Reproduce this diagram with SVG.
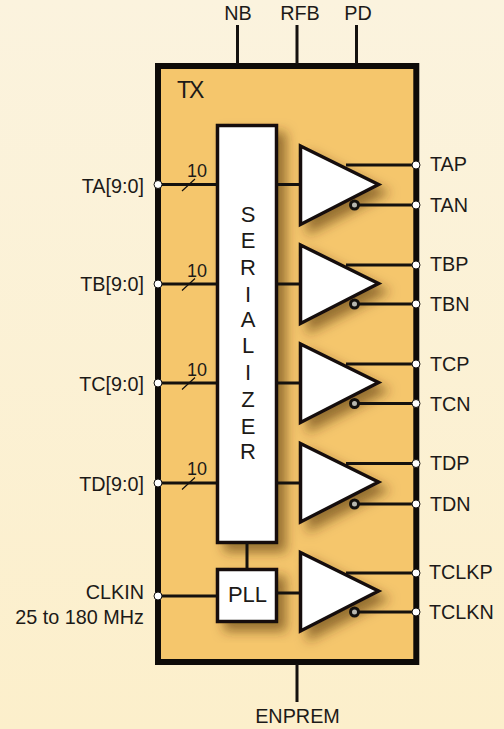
<svg xmlns="http://www.w3.org/2000/svg" width="504" height="729" viewBox="0 0 504 729">
<style>
text{font-family:"Liberation Sans",Arial,sans-serif;font-size:19.8px;fill:#1c1a18}
.e{text-anchor:end}.m{text-anchor:middle}
.w{stroke:#14110e;stroke-width:3;fill:none}
.t{stroke:#14110e;stroke-width:1.2;fill:none}
.b{fill:#fff;stroke:#14110e;stroke-width:3.5;stroke-linejoin:miter}
.p{fill:#fff;stroke:#14110e;stroke-width:1}
.n{fill:#b8b8b0;stroke:#14110e;stroke-width:3}
.s{filter:url(#sh)}
.l{font-size:22px}
</style>
<defs>
<filter id="sh" x="-40%" y="-30%" width="190%" height="170%"><feDropShadow dx="8" dy="8" stdDeviation="6" flood-color="#4a2c00" flood-opacity="0.55"/></filter>
<linearGradient id="bg" x1="0" y1="0" x2="0" y2="1"><stop offset="0" stop-color="#fbf3de"/><stop offset="1" stop-color="#fcefcb"/></linearGradient>
<polygon id="tri" class="b s" points="300.500,146 378.500,184.500 300.500,224.500"/>
</defs>
<rect width="504" height="729" fill="url(#bg)"/>
<g id="tx"><rect x="158" y="66" width="258.300" height="596" fill="#f5c66c" stroke="#0e0b08" stroke-width="6"/><text x="177" y="98" style="font-size:23px;letter-spacing:-2px">TX</text></g>
<g id="serializer"><rect class="b s" x="217.500" y="125.500" width="59" height="417"/>
<text class="m l" x="248" y="222">S</text><text class="m l" x="248" y="248">E</text><text class="m l" x="248" y="275">R</text><text class="m l" x="248" y="302">I</text><text class="m l" x="248" y="327">A</text><text class="m l" x="248" y="353">L</text><text class="m l" x="248" y="380">I</text><text class="m l" x="248" y="407">Z</text><text class="m l" x="248" y="434">E</text><text class="m l" x="248" y="459">R</text></g>
<g id="pll"><rect class="b s" x="217.500" y="569.500" width="59" height="52"/><text class="m" x="247.500" y="602" style="font-size:22px">PLL</text></g>
<g id="drv-a"><use href="#tri"/></g>
<g id="drv-b"><use href="#tri" y="99"/></g>
<g id="drv-c"><use href="#tri" y="198"/></g>
<g id="drv-d"><use href="#tri" y="297.500"/></g>
<g id="drv-clk"><use href="#tri" y="406.500"/></g>
<g id="connectors">
<path class="w" d="M237.500 25V64M297 25V64M356.500 25V64M297 664V702"/>
<path class="w" d="M158 184.500H218M158 284H218M158 383H218M158 483H218M158 596H218M247 543V569M277 184.500H299M277 284H299M277 383H299M277 483H299M277 593H299"/>
<path class="w" d="M346 165H416M358 205H416M346 265H416M358 304H416M346 364H416M358 403.500H416M346 463.500H416M358 504H416M346 573H416M358 612H416"/>
<path class="t" d="M182 191L195 179M182 290.500L195 278.500M182 389.500L195 377.500M182 489.500L195 477.500"/>
<circle class="n" cx="354.500" cy="205" r="4"/><circle class="n" cx="354.500" cy="304" r="4"/><circle class="n" cx="354.500" cy="403.500" r="4"/><circle class="n" cx="354.500" cy="504" r="4"/><circle class="n" cx="354.500" cy="612" r="4"/>
</g>
<g id="pins">
<circle class="p" cx="158" cy="184.500" r="4"/><circle class="p" cx="158" cy="284" r="4"/><circle class="p" cx="158" cy="383" r="4"/><circle class="p" cx="158" cy="483" r="4"/><circle class="p" cx="158" cy="596" r="4"/>
<circle class="p" cx="416" cy="165" r="4"/><circle class="p" cx="416" cy="205" r="4"/><circle class="p" cx="416" cy="265" r="4"/><circle class="p" cx="416" cy="304" r="4"/><circle class="p" cx="416" cy="364" r="4"/><circle class="p" cx="416" cy="403.500" r="4"/><circle class="p" cx="416" cy="463.500" r="4"/><circle class="p" cx="416" cy="504" r="4"/><circle class="p" cx="416" cy="573" r="4"/><circle class="p" cx="416" cy="612" r="4"/>
</g>
<g id="labels">
<text class="m" x="238" y="20">NB</text><text class="m" x="300" y="20">RFB</text><text class="m" x="358" y="20">PD</text>
<text class="e" x="144" y="193">TA[9:0]</text><text class="e" x="144" y="291">TB[9:0]</text><text class="e" x="144" y="391">TC[9:0]</text><text class="e" x="144" y="491">TD[9:0]</text>
<text class="e" x="144" y="599">CLKIN</text><text class="e" x="144" y="624">25 to 180 MHz</text>
<text x="187" y="177" style="font-size:18px">10</text><text x="187" y="277" style="font-size:18px">10</text><text x="187" y="376" style="font-size:18px">10</text><text x="187" y="475" style="font-size:18px">10</text>
<text x="430" y="171">TAP</text><text x="430" y="212">TAN</text><text x="430" y="271">TBP</text><text x="430" y="311">TBN</text><text x="430" y="371">TCP</text><text x="430" y="411">TCN</text><text x="430" y="470">TDP</text><text x="430" y="511">TDN</text><text x="429" y="579">TCLKP</text><text x="429" y="619">TCLKN</text>
<text class="m" x="297.500" y="723">ENPREM</text>
</g>
</svg>
